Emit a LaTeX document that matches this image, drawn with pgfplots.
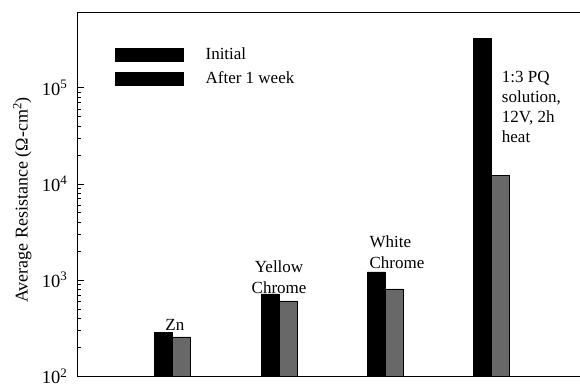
\documentclass[border=0pt]{standalone}
\usepackage{fontspec}
\setmainfont{Liberation Serif}
\usepackage{pgfplots}
\pgfplotsset{compat=1.18}
\definecolor{bargray}{RGB}{104,104,104}
\begin{document}
\begin{tikzpicture}
\begin{axis}[
  name=ax,
  scale only axis,
  width=503pt, height=363pt,
  ymode=log,
  ymin=100, ymax=6e5,
  xmin=0.1, xmax=4.83,
  log origin y=infty,
  axis x line*=box, axis y line*=left,
  xtick=\empty,
  ytick={100,1000,10000,100000},
  yticklabels={10\textsuperscript{2},10\textsuperscript{3},10\textsuperscript{4},10\textsuperscript{5}},
  tick label style={font=\fontsize{18.5}{20}\selectfont},
  yticklabel style={xshift=-6pt},
  major tick length=7pt, minor tick length=4pt,
  tick style={black, line width=0.6pt},
  axis line style={line width=1pt},
  ylabel={Average Resistance (Ω-cm\textsuperscript{2})},
  ylabel style={font=\fontsize{18}{20}\selectfont, at={(axis description cs:0,0.485)}, anchor=south, yshift=42pt},
  legend cell align=left,
  legend style={at={(axis description cs:0,1)}, anchor=north west, xshift=38pt, yshift=-33pt,
    draw=none, fill=none, inner sep=0pt, row sep=6pt,
    font=\fontsize{17}{20}\selectfont,
    /tikz/every odd column/.append style={column sep=20pt}},
]
\addplot[ybar, bar width=18pt, bar shift=-9pt, fill=black, draw=black, line width=0.8pt, forget plot]
  coordinates {(1,287) (2,715) (3,1210) (4,324000)};
\addplot[ybar, bar width=18pt, bar shift=9pt, fill=bargray, draw=black, line width=0.8pt, forget plot]
  coordinates {(1,255) (2,604) (3,806) (4,12100)};
\addlegendimage{legend image code/.code={\fill[black] (0pt,-6.5pt) rectangle (68pt,6.5pt);}}
\addlegendentry{Initial}
\addlegendimage{legend image code/.code={\fill[black] (0pt,-6.5pt) rectangle (68pt,6.5pt);}}
\addlegendentry{After 1 week}
\node[anchor=base, inner sep=0pt, font=\fontsize{17}{20}\selectfont] at (axis cs:1.02,301) {Zn};
\node[anchor=south, inner sep=0pt, align=center, font=\fontsize{17}{21}\selectfont] at (axis cs:2,715) {Yellow\\Chrome};
\node[anchor=south west, inner sep=0pt, align=left, font=\fontsize{17}{21}\selectfont] at (axis cs:2.85,1303) {White\\Chrome};
\node[anchor=north west, inner sep=0pt, align=left, font=\fontsize{17}{20}\selectfont] at (axis cs:4.094,150000) {1:3 PQ\\solution,\\12V, 2h\\heat};
\end{axis}
\pgfresetboundingbox
\path[use as bounding box] (ax.south west) ++(-77pt,-10pt) rectangle ++(580pt,386pt);
\end{tikzpicture}
\end{document}
